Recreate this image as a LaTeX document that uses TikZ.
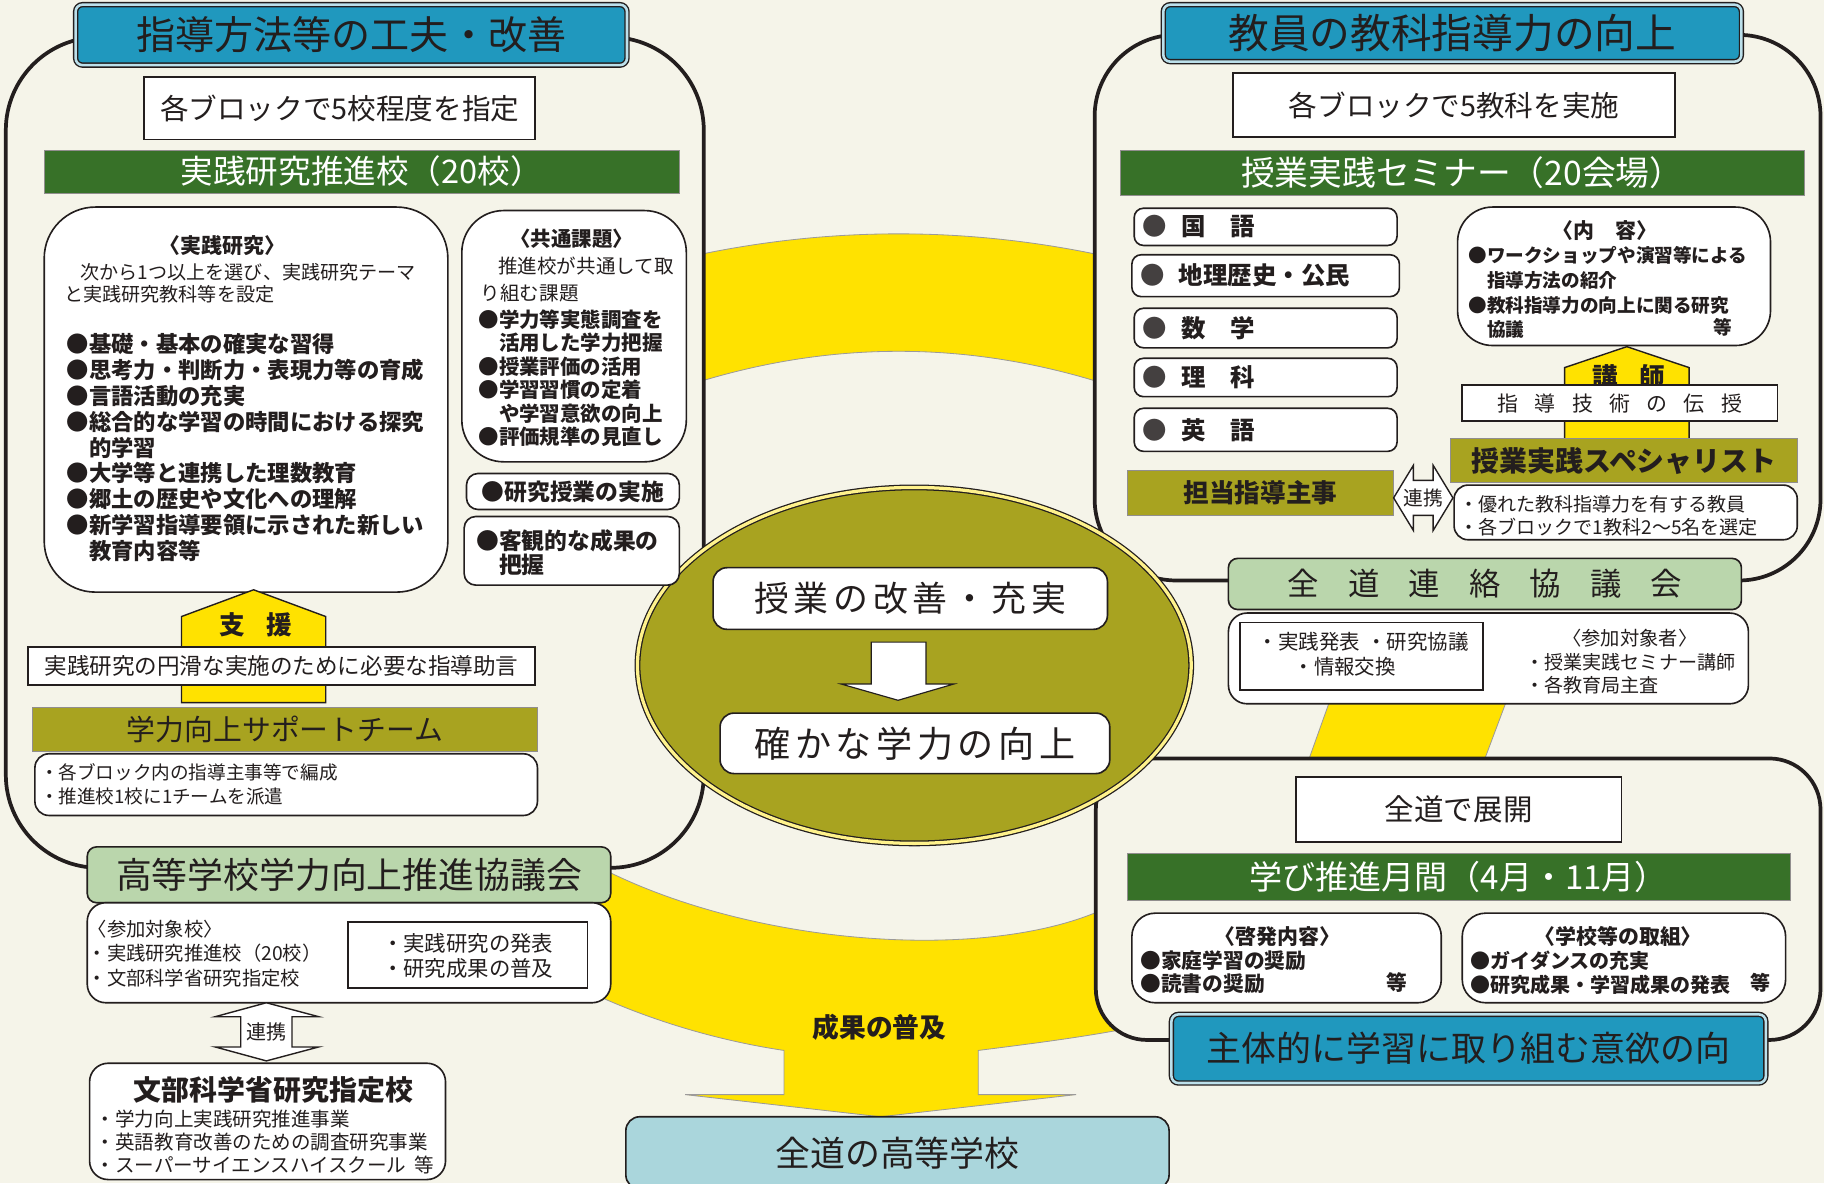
\documentclass[tikz,border=0pt]{standalone}
\usepackage{fontspec}
\setmainfont{Noto Sans CJK JP}
\usetikzlibrary{shapes.geometric}
\definecolor{bgc}{RGB}{245,244,233}
\definecolor{tblue}{RGB}{32,152,190}
\definecolor{dgreen}{RGB}{55,113,40}
\definecolor{olivc}{RGB}{168,163,32}
\definecolor{lgreen}{RGB}{186,214,172}
\definecolor{yel}{RGB}{255,226,0}
\definecolor{lblue}{RGB}{170,214,220}
\definecolor{ink}{RGB}{35,30,30}
\newcommand\fsz[2]{\fontsize{#1}{#2}\selectfont}
\begin{document}
\begin{tikzpicture}[x=0.5pt,y=-0.5pt,
  every node/.style={inner sep=0pt, text=ink},
  ttl/.style={draw=ink, line width=0.6pt, double=white!70!tblue, double distance=1.1pt, fill=tblue, rounded corners=3pt, font=\fsz{17}{17}},
  wbox/.style={draw=ink, line width=0.7pt, fill=white},
  rbox/.style={draw=ink, line width=0.7pt, fill=white, rounded corners=5pt},
  gbar/.style={draw=ink!50, line width=0.4pt, fill=dgreen, text=white},
  obar/.style={draw=ink!50, line width=0.4pt, fill=olivc},
  lgbox/.style={draw=ink, line width=0.7pt, fill=lgreen, rounded corners=4pt},
  bigbox/.style={draw=ink, line width=1.6pt, fill=bgc},
  yband/.style={fill=yel, draw=ink!45, line width=0.35pt},
  wshape/.style={fill=white, draw=ink, line width=0.6pt},
  ml/.style={align=left, anchor=north west},
  bt/.style={font=\bfseries\fsz{#1}{#1}}
]
\fill[bgc] (0,0) rectangle (1568,1017);
\useasboundingbox (0,0) rectangle (1568,1017);

% yellow bands
\path[yband] (560,228.4) .. controls (701.7,191.9) and (843.3,191.9) .. (985,228.4) -- (985,342.2) .. controls (843.3,288.6) and (701.7,288.6) .. (560,342.2) -- cycle;
\path[yband] (505,740) .. controls (640,815) and (860,830) .. (960,776) -- (975,883) .. controls (930,892) and (880,898) .. (841,903) -- (841,941) -- (925,941) -- (757,960) -- (589,941) -- (674,941) -- (674,903) .. controls (620,895) and (560,878) .. (505,852) -- cycle;
\path[yband] (1144,600) -- (1296,600) -- (1275,656) -- (1124,656) -- cycle;

% big frames
\node[bigbox, rounded corners=40pt, minimum width=300pt, minimum height=357pt] (LB) at (305,389) {};
\node[bigbox, rounded corners=35pt, minimum width=312pt, minimum height=234.5pt] (RB) at (1253,264.5) {};
\node[bigbox, rounded corners=22pt, minimum width=311.5pt, minimum height=121pt] (RB2) at (1253.5,773) {};

% centre ellipse
\node[ellipse, draw=ink, line width=0.55pt, double=yel!45!white, double distance=1.4pt, fill=olivc, minimum width=238pt, minimum height=153pt] (ELL) at (786,572) {};

% titles
\node[ttl, font=\fsz{16.8}{16.8}, minimum width=237pt, minimum height=26pt] (TL) at (302,30) {指導方法等の工夫・改善};
\node[ttl, font=\fsz{17.5}{17.5}, minimum width=248.5pt, minimum height=24.5pt] (TR) at (1248.5,28.5) {教員の教科指導力の向上};

% ---------- left ----------
\node[wbox, minimum width=168pt, minimum height=27pt, font=\fsz{12.3}{12.3}] (L5) at (292,93) {各ブロックで5校程度を指定};
\node[gbar, minimum width=273pt, minimum height=18.5pt, font=\fsz{14}{14}] (LBAR) at (311,147.5) {実践研究推進校（20校）};

\node[rbox, rounded corners=22pt, minimum width=173.5pt, minimum height=165.5pt] (JB) at (211.5,343.5) {};
\node[bt=9] (JT) at (191,211) {〈実践研究〉};
\node[font=\fsz{8.2}{8.2}, anchor=west] (J1) at (69,234) {次から1つ以上を選び、実践研究テーマ};
\node[font=\fsz{8.2}{8.2}, anchor=west] (J2) at (55,253) {と実践研究教科等を設定};
\node[ml, font=\bfseries\fsz{9.6}{11.1}] (JL) at (57,286.4) {●基礎・基本の確実な習得\\●思考力・判断力・表現力等の育成\\●言語活動の充実\\●総合的な学習の時間における探究\\\phantom{●}的学習\\●大学等と連携した理数教育\\●郷土の歴史や文化への理解\\●新学習指導要領に示された新しい\\\phantom{●}教育内容等};

\node[rbox, rounded corners=18pt, minimum width=96.5pt, minimum height=108pt] (KB) at (493.5,289) {};
\node[bt=8.8] (KT) at (491.5,205) {〈共通課題〉};
\node[font=\fsz{8.4}{8.4}, anchor=west] (K1) at (428,229) {推進校が共通して取};
\node[font=\fsz{8.4}{8.4}, anchor=west] (K2) at (413,252) {り組む課題};
\node[ml, font=\bfseries\fsz{8.8}{10.05}] (KL) at (411,266) {●学力等実態調査を\\\phantom{●}活用した学力把握\\●授業評価の活用\\●学習習慣の定着\\\phantom{●}や学習意欲の向上\\●評価規準の見直し};

\node[rbox, minimum width=91.5pt, minimum height=15.5pt, bt=9.8] (KEN) at (492.5,422.5) {●研究授業の実施};
\node[rbox, minimum width=92.5pt, minimum height=29.5pt] (KYA) at (491.5,473.5) {};
\node[ml, font=\bfseries\fsz{9.8}{10.2}] (KYAT) at (409,455) {●客観的な成果の\\\phantom{●}把握};

\path[yband, draw=ink, line width=0.6pt] (156,530) -- (218,507) -- (280,530) -- (280,604) -- (156,604) -- cycle;
\node[bt=11] (SHIEN) at (220,537) {支\hspace{9pt}援};
\node[wbox, minimum width=218pt, minimum height=16.5pt, font=\fsz{9.7}{9.7}] (JOGEN) at (242,572.5) {実践研究の円滑な実施のために必要な指導助言};
\node[obar, minimum width=217pt, minimum height=19pt, font=\fsz{12.4}{12.4}] (SBAR) at (245,627) {学力向上サポートチーム};
\node[rbox, rounded corners=6pt, minimum width=216pt, minimum height=26.5pt] (SBOX) at (246,674.5) {};
\node[ml, font=\fsz{8}{10.5}] (SBOXT) at (34,656) {・各ブロック内の指導主事等で編成\\・推進校1校に1チームを派遣};

\node[lgbox, minimum width=225pt, minimum height=24pt, font=\fsz{15.4}{15.4}] (KOUTO) at (300,752) {高等学校学力向上推進協議会};
\node[rbox, rounded corners=8pt, minimum width=225pt, minimum height=43pt] (SANKA) at (300,819) {};
\node[ml, font=\fsz{8.3}{10.5}] (SANKAT) at (75,790.5) {〈参加対象校〉\\・実践研究推進校（20校）\\・文部科学省研究指定校};
\node[wbox, minimum width=103pt, minimum height=28.5pt] (SANKA2) at (402,821) {};
\node[align=left, font=\fsz{9.2}{10.6}] (SANKA2T) at (402,821.5) {・実践研究の発表\\・研究成果の普及};

\path[wshape] (229,862) -- (274,874) -- (251,874) -- (251,900) -- (274,900) -- (229,912) -- (185,900) -- (207,900) -- (207,874) -- (185,874) -- cycle;
\node[font=\fsz{8.6}{8.6}] (REN1) at (229,887) {連携};

\node[rbox, rounded corners=8pt, minimum width=153pt, minimum height=50pt] (MONBU) at (230,964) {};
\node[bt=12] (MONBUT) at (235,937) {文部科学省研究指定校};
\node[ml, font=\fsz{8.4}{10}] (MONBUL) at (82,953.4) {・学力向上実践研究推進事業\\・英語教育改善のための調査研究事業\\・スーパーサイエンスハイスクール\hspace{0.4em}等};

% ---------- centre ----------
\node[rbox, rounded corners=6pt, minimum width=169.5pt, minimum height=26.5pt, font=\fsz{15}{15}] (JUG) at (782.5,514.5) {授\hspace{2pt}業\hspace{2pt}の\hspace{2pt}改\hspace{2pt}善\hspace{2pt}・\hspace{2pt}充\hspace{2pt}実};
\path[wshape, line width=0.5pt] (749,552) -- (796,552) -- (796,588) -- (820,588) -- (772,602) -- (723,588) -- (749,588) -- cycle;
\node[rbox, rounded corners=6pt, minimum width=167.5pt, minimum height=26pt, font=\fsz{15.5}{15.5}] (TAS) at (786.5,639) {確\hspace{2pt}か\hspace{2pt}な\hspace{2pt}学\hspace{2pt}力\hspace{2pt}の\hspace{2pt}向\hspace{2pt}上};

\node[font=\bfseries\fsz{11.5}{11.5}] (SEIKA) at (756,883) {成果の普及};
\node[draw=ink, line width=0.7pt, fill=lblue, rounded corners=6pt, minimum width=233.5pt, minimum height=31pt, font=\fsz{15}{15}] (ZENKOU) at (771.5,991) {全道の高等学校};

% ---------- right top ----------
\node[wbox, minimum width=190pt, minimum height=27.5pt, font=\fsz{12.3}{12.3}] (R5) at (1250,90.5) {各ブロックで5教科を実施};
\node[gbar, minimum width=294pt, minimum height=19.5pt, font=\fsz{14.5}{14.5}] (RBAR) at (1257,148.5) {授業実践セミナー（20会場）};

\node[rbox, rounded corners=4pt, minimum width=113pt, minimum height=16pt] (S1) at (1088,195) {};
\node[bt=10.5, anchor=west] (S1T) at (982,195) {{\color{ink!85}●}\hspace{6pt}国　語};
\node[rbox, rounded corners=4pt, minimum width=115pt, minimum height=18pt] (S2) at (1088,237) {};
\node[bt=10.5, anchor=west] (S2T) at (980,237) {{\color{ink!85}●}\hspace{6pt}地理歴史・公民};
\node[rbox, rounded corners=4pt, minimum width=113pt, minimum height=17pt] (S3) at (1088,282) {};
\node[bt=10.5, anchor=west] (S3T) at (982,282) {{\color{ink!85}●}\hspace{6pt}数　学};
\node[rbox, rounded corners=4pt, minimum width=113pt, minimum height=16.5pt] (S4) at (1088,324.5) {};
\node[bt=10.5, anchor=west] (S4T) at (982,324.5) {{\color{ink!85}●}\hspace{6pt}理　科};
\node[rbox, rounded corners=4pt, minimum width=113pt, minimum height=18.5pt] (S5) at (1088,369.5) {};
\node[bt=10.5, anchor=west] (S5T) at (982,369.5) {{\color{ink!85}●}\hspace{6pt}英　語};

\node[obar, minimum width=114pt, minimum height=19.5pt, bt=11] (TANTOU) at (1083.5,423.5) {担当指導主事};
\path[wshape] (1198,428) -- (1215,400) -- (1215,413) -- (1232,413) -- (1232,400) -- (1249,428) -- (1232,456) -- (1232,443) -- (1215,443) -- (1215,456) -- cycle;
\node[font=\fsz{8.5}{8.5}] (REN2) at (1223.5,428) {連携};

\node[rbox, rounded corners=15pt, minimum width=134.5pt, minimum height=59.5pt] (NAIYO) at (1387.5,237.5) {};
\node[bt=9] (NAIYOT) at (1380,198) {〈内　容〉};
\node[ml, font=\bfseries\fsz{8}{10.6}] (NAIYOL) at (1262,211.8) {●ワークショップや演習等による\\\phantom{●}指導方法の紹介\\●教科指導力の向上に関る研究\\\phantom{●}協議};
\node[bt=8] (NAIYOE) at (1481,281) {等};

\path[yband, draw=ink, line width=0.6pt] (1345,316) -- (1398.5,298) -- (1452,316) -- (1452,380) -- (1345,380) -- cycle;
\node[bt=11] (KOUSHI) at (1400,324) {講\hspace{9pt}師};
\node[wbox, minimum width=135.5pt, minimum height=15.5pt, font=\fsz{9}{9}] (SHIDO) at (1392.5,346.5) {指\hspace{7pt}導\hspace{7pt}技\hspace{7pt}術\hspace{7pt}の\hspace{7pt}伝\hspace{7pt}授};
\node[obar, minimum width=149pt, minimum height=19pt, bt=12] (SPEC) at (1396,396) {授業実践スペシャリスト};
\node[rbox, rounded corners=6pt, minimum width=147.5pt, minimum height=23.5pt] (SPECB) at (1397.5,440.5) {};
\node[ml, font=\fsz{8.2}{10}] (SPECT) at (1254,425.6) {・優れた教科指導力を有する教員\\・各ブロックで1教科2～5名を選定};

% ---------- right middle ----------
\node[lgbox, minimum width=220.5pt, minimum height=22pt, font=\fsz{13.5}{13.5}] (RENRAKU) at (1276.5,502) {全\hspace{12.5pt}道\hspace{12.5pt}連\hspace{12.5pt}絡\hspace{12.5pt}協\hspace{12.5pt}議\hspace{12.5pt}会};
\node[rbox, rounded corners=8pt, minimum width=223.5pt, minimum height=39pt] (RENB) at (1279.5,566) {};
\node[wbox, minimum width=104.5pt, minimum height=29pt] (RENB2) at (1170.5,564) {};
\node[font=\fsz{8.8}{8.8}] (RENB2A) at (1172,552) {・実践発表\hspace{0.3em}・研究協議};
\node[font=\fsz{8.8}{8.8}] (RENB2B) at (1156,573) {・情報交換};
\node[font=\fsz{8.3}{8.3}] (RENPT) at (1401,549) {〈参加対象者〉};
\node[ml, font=\fsz{8.2}{10}] (RENPL) at (1311,561.5) {・授業実践セミナー講師\\・各教育局主査};

% ---------- right bottom ----------
\node[wbox, minimum width=140pt, minimum height=28pt, font=\fsz{12.7}{12.7}] (ZENDO) at (1254,696) {全道で展開};
\node[gbar, minimum width=285pt, minimum height=20pt, font=\fsz{14.2}{14.2}] (MANABI) at (1254,754) {学び推進月間（4月・11月）};
\node[rbox, rounded corners=10pt, minimum width=133pt, minimum height=38.5pt] (KEI) at (1106,823.5) {};
\node[bt=9] (KEIT) at (1098,805) {〈啓発内容〉};
\node[ml, font=\bfseries\fsz{8.9}{10}] (KEIL) at (980,817) {●家庭学習の奨励\\●読書の奨励};
\node[bt=8.9] (KEIE) at (1201,845) {等};
\node[rbox, rounded corners=10pt, minimum width=139pt, minimum height=38.5pt] (GAK) at (1396,823.5) {};
\node[bt=9] (GAKT) at (1391,805) {〈学校等の取組〉};
\node[ml, font=\bfseries\fsz{8.6}{10}] (GAKL) at (1264,817.3) {●ガイダンスの充実\\●研究成果・学習成果の発表};
\node[bt=8.6] (GAKE) at (1513,845) {等};

\node[ttl, font=\fsz{15}{15}, minimum width=255.5pt, minimum height=29.5pt] (TB) at (1262.5,901.5) {主体的に学習に取り組む意欲の向};
\end{tikzpicture}
\end{document}
